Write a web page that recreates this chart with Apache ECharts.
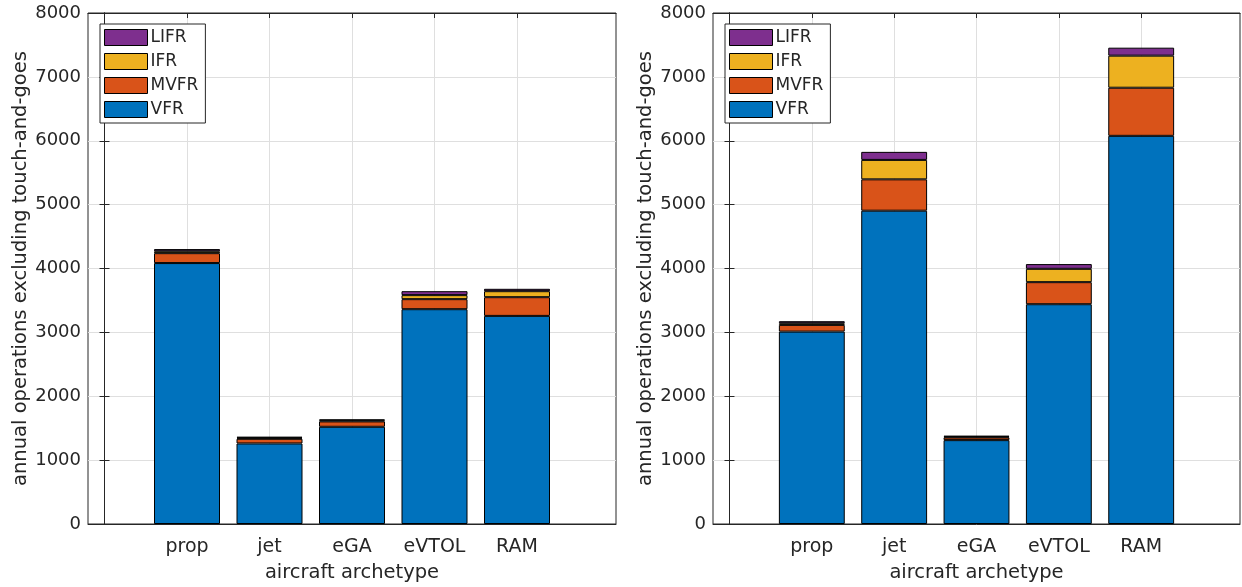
<!DOCTYPE html>
<html>
<head>
<meta charset="utf-8">
<script src="https://cdn.jsdelivr.net/npm/echarts@6/dist/echarts.min.js"></script>
<style>
  html, body { margin: 0; padding: 0; background: #fff; }
  #chart { width: 1242px; height: 587px; }
</style>
</head>
<body>
<div id="chart"></div>
<script>
var categories = ['prop', 'jet', 'eGA', 'eVTOL', 'RAM'];
var positions = [1, 2, 3, 4, 5];

// left panel
var vfrLeft  = [4085, 1261, 1522, 3363, 3258];
var mvfrLeft = [155, 73, 84, 157, 293];
var ifrLeft  = [30, 16, 16, 63, 94];
var lifrLeft = [34, 15, 15, 62, 37];

// right panel
var vfrRight  = [3012, 4905, 1313, 3441, 6077];
var mvfrRight = [105, 491, 42, 345, 753];
var ifrRight  = [26, 304, 12, 209, 502];
var lifrRight = [32, 126, 13, 74, 125];

var colors = { VFR: '#0072BD', MVFR: '#D95319', IFR: '#EDB120', LIFR: '#7E2F8E' };
var ink = '#262626';
var gridGray = '#dfdfdf';
var font = 'DejaVu Sans';

// axes box of each panel, x range -0.2 .. 6.2 like matlab
var panels = [
    { left: 88, width: 528 },
    { left: 713, width: 527 }
];
var boxTop = 13, boxHeight = 511;

var grids = [], xAxes = [], yAxes = [];

panels.forEach(function (p, k) {
    var unit = p.width / 6.4;
    // outer grid: box, ticks, gridlines, labels
    grids.push({ left: p.left, top: boxTop, width: p.width, height: boxHeight,
                 outerBoundsMode: 'none',
                 show: true, borderColor: ink, borderWidth: 1 });
    // inner grid: only the bars, one category band per unit
    grids.push({ left: p.left + 0.7 * unit, top: boxTop, width: 5 * unit, height: boxHeight,
                 outerBoundsMode: 'none' });

    var outer = 2 * k, inner = 2 * k + 1;
    var xbase = {
        type: 'value', gridIndex: outer, min: -0.2, max: 6.2,
        axisLine: { show: true, onZero: false, lineStyle: { color: ink, width: 1 } },
        axisTick: { show: true, inside: true, length: 5, customValues: positions, lineStyle: { color: ink } },
        splitLine: { show: false }
    };
    xAxes.push(Object.assign({}, xbase, {
        position: 'bottom',
        axisLabel: {
            show: true, customValues: positions, margin: 14,
            color: ink, fontFamily: font, fontSize: 19,
            formatter: function (v) { return categories[Math.round(v) - 1] || ''; }
        },
        splitLine: { show: true, lineStyle: { color: gridGray, width: 1 } },
        name: 'aircraft archetype', nameLocation: 'middle', nameGap: 39,
        nameTextStyle: { color: ink, fontFamily: font, fontSize: 19.5 }
    }));
    xAxes.push(Object.assign({}, xbase, { position: 'top', axisLabel: { show: false } }));
    xAxes.push({
        type: 'category', gridIndex: inner, data: categories,
        axisLine: { show: false }, axisTick: { show: false },
        axisLabel: { show: false }, splitLine: { show: false }
    });

    var ybase = {
        type: 'value', gridIndex: outer, min: 0, max: 8000, interval: 1000,
        axisLine: { show: true, lineStyle: { color: ink, width: 1 } },
        axisTick: { show: true, inside: true, length: 5, lineStyle: { color: ink } }
    };
    yAxes.push(Object.assign({}, ybase, {
        position: 'left',
        axisLabel: { color: ink, fontFamily: font, fontSize: 18, margin: 7,
                     formatter: function (v) { return String(v); } },
        splitLine: { show: true, lineStyle: { color: gridGray, width: 1 } },
        name: 'annual operations excluding touch-and-goes', nameLocation: 'middle', nameGap: 52,
        nameTextStyle: { color: ink, fontFamily: font, fontSize: 19.5 }
    }));
    yAxes.push(Object.assign({}, ybase, {
        position: 'right', axisLabel: { show: false }, splitLine: { show: false }
    }));
    yAxes.push({
        type: 'value', gridIndex: inner, min: 0, max: 8000,
        show: false, splitLine: { show: false }
    });
});

function barSeries(name, vals, k) {
    return {
        name: name, type: 'bar', stack: 'panel' + k,
        xAxisIndex: 3 * k + 2, yAxisIndex: 3 * k + 2,
        barWidth: '80%',
        itemStyle: { color: colors[name], borderColor: '#000', borderWidth: 1 },
        emphasis: { disabled: true },
        data: vals
    };
}

function legendAt(left) {
    return {
        orient: 'vertical', left: left, top: 24,
        data: ['LIFR', 'IFR', 'MVFR', 'VFR'],
        icon: 'rect',
        itemWidth: 43, itemHeight: 16, itemGap: 7,
        padding: [5, 7, 5, 4],
        borderColor: ink, borderWidth: 1, backgroundColor: '#fff',
        selectedMode: false,
        textStyle: { color: ink, fontFamily: font, fontSize: 17, padding: [0, 0, 0, -2] },
        itemStyle: { borderColor: '#000', borderWidth: 1 }
    };
}

var chart = echarts.init(document.getElementById('chart'));
chart.setOption({
    animation: false,
    backgroundColor: '#fff',
    grid: grids,
    xAxis: xAxes,
    yAxis: yAxes,
    legend: [legendAt(100), legendAt(725)],
    series: [
        barSeries('VFR', vfrLeft, 0),
        barSeries('MVFR', mvfrLeft, 0),
        barSeries('IFR', ifrLeft, 0),
        barSeries('LIFR', lifrLeft, 0),
        barSeries('VFR', vfrRight, 1),
        barSeries('MVFR', mvfrRight, 1),
        barSeries('IFR', ifrRight, 1),
        barSeries('LIFR', lifrRight, 1)
    ]
});
</script>
</body>
</html>
